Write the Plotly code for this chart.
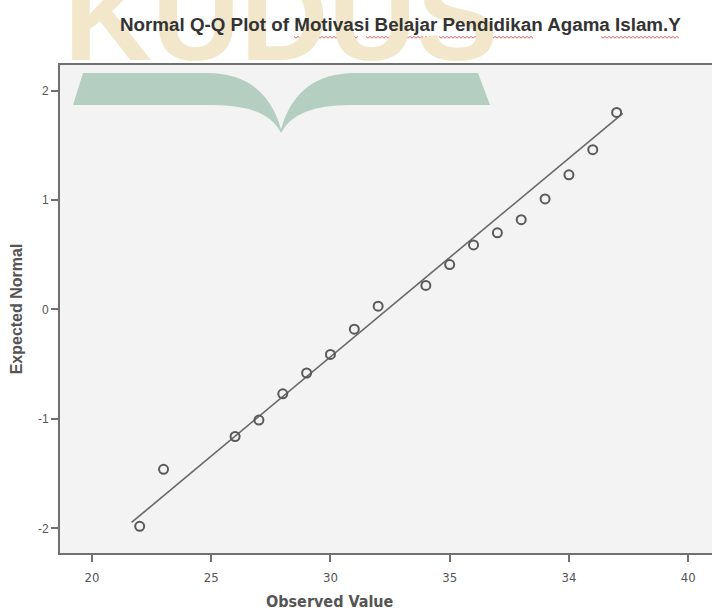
import plotly.graph_objects as go

# ---- data ----
observed = [22, 23, 26, 27, 28, 29, 30, 31, 32, 34, 35, 36, 37, 38, 39, 40, 41, 42]
expected = [-1.98, -1.46, -1.16, -1.01, -0.77, -0.58, -0.41, -0.18, 0.03, 0.22,
            0.41, 0.59, 0.70, 0.82, 1.01, 1.23, 1.46, 1.80]
line_x = [21.66, 42.26]
line_y = [-1.945, 1.792]
x_tickvals = [20, 25, 30, 35, 40, 45]
x_ticktext = ["20", "25", "30", "35", "34", "40"]
y_tickvals = [-2, -1, 0, 1, 2]
y_ticktext = ["-2", "-1", "0", "1", "2"]

W, H = 712, 616
L, R, T, B = 60, 0, 65, 63
PW, PH = W - L - R, H - T - B


def px(x):
    return (x - L) / PW


def py(y):
    return (H - B - y) / PH


fig = go.Figure()
fig.add_trace(go.Scatter(x=line_x, y=line_y, mode="lines",
                         line=dict(color="#686868", width=1.6), hoverinfo="skip"))
fig.add_trace(go.Scatter(x=observed, y=expected, mode="markers",
                         marker=dict(symbol="circle-open", size=9, color="#5a5a5a",
                                     line=dict(width=2, color="#5a5a5a"))))

shapes = []
# green open-book watermark inside plot area
book = [(83, 73), (207, 73), "Q", (265, 73), (281, 129), "Q", (297, 73), (355, 73),
        (478, 73), (490, 105), (350, 105), "Q", (295, 105), (281, 133), "Q", (267, 105),
        (213, 105), (73, 105)]
path = ""
cmd = "M"
i = 0
while i < len(book):
    item = book[i]
    if item == "Q":
        c, e = book[i + 1], book[i + 2]
        path += f" Q {px(c[0])},{py(c[1])} {px(e[0])},{py(e[1])}"
        i += 3
        continue
    path += f" {cmd} {px(item[0])},{py(item[1])}"
    cmd = "L"
    i += 1
path += " Z"
shapes.append(dict(type="path", path=path, xref="paper", yref="paper",
                   fillcolor="#b4cfc2", line=dict(width=0), layer="below"))

# red spell-check wavy underlines under the title words
for x0, x1 in [(294, 359), (366, 433), (439, 533), (601, 680)]:
    pts = []
    xx = x0
    k = 0
    while xx <= x1:
        pts.append((xx, 37 + (1.2 if k % 2 else -0.6)))
        xx += 2
        k += 1
    p = "M " + " L ".join(f"{px(a)},{py(b)}" for a, b in pts)
    shapes.append(dict(type="path", path=p, xref="paper", yref="paper",
                       line=dict(color="#e05050", width=0.9)))

annotations = [
    dict(text="<b>KUDUS</b>", x=px(281), y=py(18), xref="paper", yref="paper",
         xanchor="center", yanchor="middle", showarrow=False,
         font=dict(family="Liberation Sans, Arial", size=122, color="#f2e7ca")),
    dict(text="<b>Normal Q-Q Plot of Motivasi Belajar Pendidikan Agama Islam.Y</b>",
         x=px(118), y=py(25), xref="paper", yref="paper", xanchor="left",
         yanchor="middle", showarrow=False,
         font=dict(family="Liberation Sans, Arial", size=18.8, color="#333333")),
    dict(text="<b>Observed Value</b>", x=px(330), y=py(601), xref="paper", yref="paper",
         xanchor="center", yanchor="middle", showarrow=False,
         font=dict(family="Liberation Sans Narrow, DejaVu Sans Condensed, Roboto Condensed, Liberation Sans",
                   size=16, color="#555555")),
]

fig.update_layout(
    width=W, height=H,
    margin=dict(l=L, r=R, t=T, b=B, pad=0),
    paper_bgcolor="white",
    plot_bgcolor="#f3f3f3",
    showlegend=False,
    shapes=shapes,
    annotations=annotations,
    font=dict(family="Liberation Sans, Arial", color="#555555"),
)
fig.update_xaxes(range=[18.658, 46.0], tickvals=x_tickvals, ticktext=x_ticktext,
                 showgrid=False, zeroline=False, showline=True, linecolor="#707070",
                 linewidth=2, mirror=True, ticks="outside", ticklen=7, tickwidth=2,
                 tickcolor="#707070", ticklabelstandoff=4,
                 tickfont=dict(family="Liberation Sans Narrow, DejaVu Sans Condensed, Liberation Sans",
                               size=13, color="#555555"))
fig.update_yaxes(range=[-2.224, 2.233], tickvals=y_tickvals, ticktext=y_ticktext,
                 showgrid=False, zeroline=False, showline=True, linecolor="#707070",
                 linewidth=2, ticks="outside", ticklen=7, tickwidth=2, tickcolor="#707070",
                 tickfont=dict(family="Liberation Sans, Arial", size=12, color="#555555"),
                 title=dict(text="<b>Expected Normal</b>", standoff=11,
                            font=dict(family="Liberation Sans, Arial", size=16, color="#555555")))

fig.write_html("out.html", config={"displayModeBar": False},
               post_script="document.body.style.margin='0';document.body.style.overflow='hidden';")
